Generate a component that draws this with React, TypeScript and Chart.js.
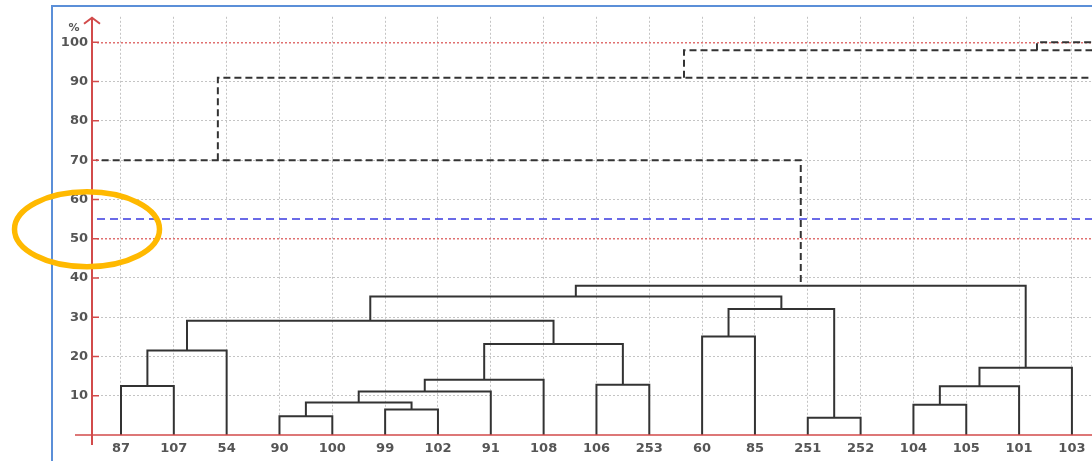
import React, { useEffect, useRef } from 'react';
import { Chart, registerables } from 'chart.js';

Chart.register(...registerables);

// Leaf labels in dendrogram order
const leaves = ['87', '107', '54', '90', '100', '99', '102', '91', '108', '106', '253', '60', '85', '251', '252', '104', '105', '101', '103'];

// Merge table (hclust-like): L = leaf index, M = earlier merge, O = branch outside the cropped view
const mergeLeft = ['L0', 'M0', 'L3', 'L5', 'M2', 'M4', 'M5', 'L9', 'M6', 'M1', 'L11', 'L13', 'M10', 'M9', 'L15', 'M14', 'M15', 'M13', 'O0', 'M18', 'M19', 'M20'];
const mergeRight = ['L1', 'L2', 'L4', 'L6', 'M3', 'L7', 'L8', 'L10', 'M7', 'M8', 'L12', 'L14', 'M11', 'M12', 'L16', 'L17', 'L18', 'M16', 'M17', 'O1', 'O2', 'O3'];
const mergeHeight = [12.5, 21.5, 4.8, 6.5, 8.3, 11.1, 14.1, 12.8, 23.2, 29.1, 25.1, 4.4, 32.1, 35.3, 7.7, 12.4, 17.1, 38, 70, 91, 98, 100];

// Branches that lie outside the visible crop (position on leaf axis, height)
const outerPositions = [-9.2, 19.48, 24.02, 36];
const outerHeights = [60, 75, 85, 90];

const yTicks = [10, 20, 30, 40, 50, 60, 70, 80, 90, 100];
const redGridValues = [50, 100];
const cutHeight = 55;
const xMin = -0.454;
const xMax = 18.38;
const yMax = 106.5;

const RED = '#d24b4b';
const GREY = '#c4c4c4';
const LINE = '#333333';
const FONT = '"DejaVu Sans", sans-serif';

function buildSegments() {
  const pos: number[] = [];
  const hgt: number[] = [];
  const node = (id: string) => {
    const k = id[0];
    const i = Number(id.slice(1));
    if (k === 'L') return { x: i, y: 0 };
    if (k === 'O') return { x: outerPositions[i], y: outerHeights[i] };
    return { x: pos[i], y: hgt[i] };
  };
  const solid: any[] = [];
  const dashed: any[] = [];
  mergeHeight.forEach((h, i) => {
    const a = node(mergeLeft[i]);
    const b = node(mergeRight[i]);
    pos[i] = (a.x + b.x) / 2;
    hgt[i] = h;
    const t = h > cutHeight ? dashed : solid;
    t.push({ x: a.x, y: a.y }, { x: a.x, y: h }, { x: b.x, y: h }, { x: b.x, y: b.y }, { x: b.x, y: null });
  });
  return { solid, dashed };
}

const decor = {
  id: 'decor',
  beforeDraw(chart: any) {
    const { ctx } = chart;
    ctx.save();
    ctx.strokeStyle = '#5b8fd8';
    ctx.lineWidth = 2;
    ctx.beginPath();
    ctx.moveTo(52, chart.height);
    ctx.lineTo(52, 6);
    ctx.lineTo(chart.width, 6);
    ctx.stroke();
    ctx.restore();
  },
  afterDraw(chart: any) {
    const { ctx, chartArea } = chart;
    const y = chart.scales.y;
    const ax = chartArea.left - 5;
    const y0 = y.getPixelForValue(0);
    ctx.save();
    ctx.strokeStyle = RED;
    ctx.lineWidth = 2;
    ctx.beginPath();
    ctx.moveTo(ax, y0 + 10);
    ctx.lineTo(ax, chartArea.top + 1);
    ctx.stroke();
    ctx.beginPath();
    ctx.moveTo(ax - 8, chartArea.top + 7);
    ctx.lineTo(ax, chartArea.top + 1);
    ctx.lineTo(ax + 8, chartArea.top + 7);
    ctx.stroke();
    ctx.lineWidth = 1.5;
    ctx.beginPath();
    ctx.moveTo(ax - 17, y0);
    ctx.lineTo(chartArea.right, y0);
    yTicks.forEach((v) => {
      const py = y.getPixelForValue(v);
      ctx.moveTo(ax, py);
      ctx.lineTo(ax + 7, py);
    });
    ctx.stroke();
    ctx.fillStyle = '#555';
    ctx.font = 'bold 11px ' + FONT;
    ctx.textAlign = 'center';
    ctx.textBaseline = 'middle';
    ctx.fillText('%', ax - 18, y.getPixelForValue(100) - 14);
    // highlight ellipse around the cut level
    ctx.strokeStyle = '#ffb900';
    ctx.lineWidth = 5.5;
    ctx.beginPath();
    ctx.ellipse(ax - 5, y.getPixelForValue(52.4), 72.5, 37.5, 0, 0, Math.PI * 2);
    ctx.stroke();
    ctx.restore();
  },
};

export default function App() {
  const ref = useRef<HTMLCanvasElement>(null);
  useEffect(() => {
    if (!ref.current) return;
    const { solid, dashed } = buildSegments();
    const chart = new Chart(ref.current, {
      type: 'line',
      data: {
        datasets: [
          {
            data: solid,
            borderColor: LINE,
            borderWidth: 2,
            pointRadius: 0,
            pointHoverRadius: 0,
            tension: 0,
            spanGaps: false,
            clip: 1,
          },
          {
            data: dashed,
            borderColor: LINE,
            borderWidth: 2,
            borderDash: [7, 4],
            pointRadius: 0,
            pointHoverRadius: 0,
            tension: 0,
            spanGaps: false,
            clip: 1,
          },
          {
            data: [
              { x: xMin, y: cutHeight },
              { x: xMax, y: cutHeight },
            ],
            borderColor: '#3a3ae0',
            borderWidth: 1.6,
            borderDash: [8, 5],
            pointRadius: 0,
            pointHoverRadius: 0,
            clip: 1,
          },
        ],
      },
      options: {
        responsive: false,
        animation: false,
        events: [],
        layout: { padding: { left: 0, right: 0, top: 12, bottom: 0 } },
        plugins: { legend: { display: false }, tooltip: { enabled: false } },
        scales: {
          x: {
            type: 'linear',
            min: xMin,
            max: xMax,
            afterFit: (s: any) => {
              s.height = 26;
            },
            afterBuildTicks: (s: any) => {
              s.ticks = leaves.map((_, i) => ({ value: i }));
            },
            grid: { color: GREY, lineWidth: 1, drawTicks: false },
            border: { display: false, dash: [2, 2] },
            ticks: {
              autoSkip: false,
              maxRotation: 0,
              padding: 6,
              color: '#555',
              font: { family: FONT, size: 13, weight: 'bold' },
              callback: (_v: any, i: number) => leaves[i],
            },
          },
          y: {
            type: 'linear',
            min: 0,
            max: yMax,
            afterFit: (s: any) => {
              s.width = 97;
            },
            afterBuildTicks: (s: any) => {
              s.ticks = yTicks.map((v) => ({ value: v }));
            },
            grid: {
              color: (c: any) => (redGridValues.includes(c.tick?.value) ? '#e07070' : GREY),
              lineWidth: (c: any) => (redGridValues.includes(c.tick?.value) ? 1.5 : 1),
              drawTicks: false,
            },
            border: { display: false, dash: [2, 2] },
            ticks: {
              padding: 9,
              color: '#555',
              font: { family: FONT, size: 13, weight: 'bold' },
            },
          },
        },
      },
      plugins: [decor],
    });
    return () => chart.destroy();
  }, []);
  return (
    <div style={{ position: 'fixed', left: 0, top: 0, width: 1092, height: 461, background: '#fff' }}>
      <canvas ref={ref} width={1092} height={461} style={{ display: 'block' }} />
    </div>
  );
}
